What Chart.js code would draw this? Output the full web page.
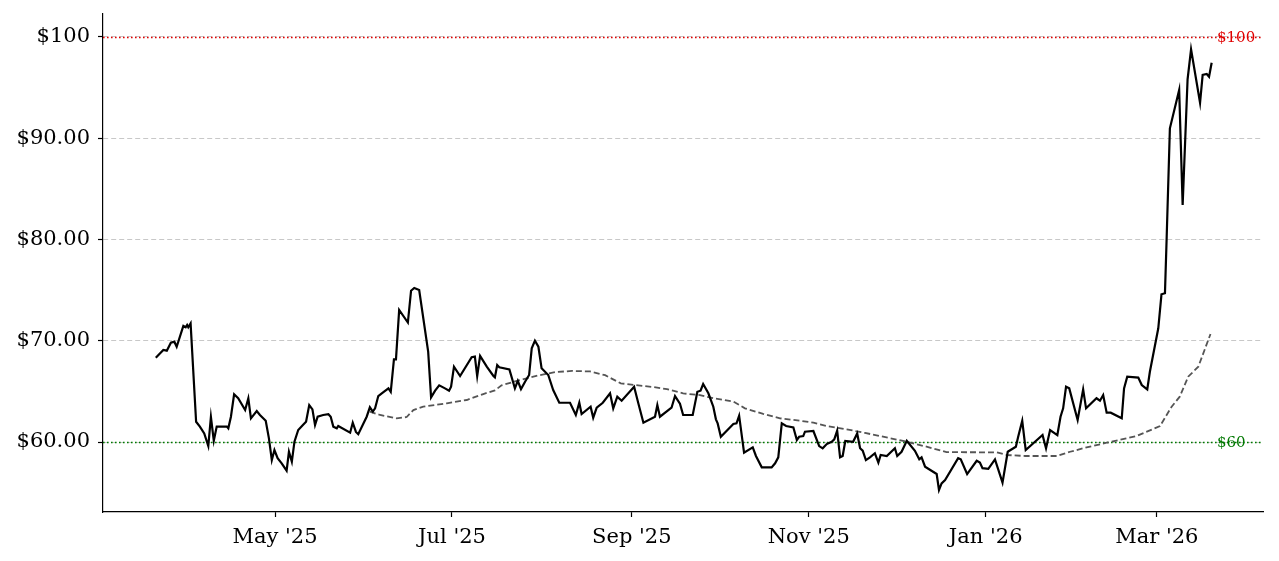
<!DOCTYPE html>
<html>
<head>
<meta charset="utf-8">
<script src="https://cdn.jsdelivr.net/npm/chart.js@4.4.1/dist/chart.umd.min.js"></script>
<style>
  html, body { margin: 0; padding: 0; background: #fff; }
  #wrap { width: 1279px; height: 561px; }
</style>
</head>
<body>
<div id="wrap"><canvas id="chart" width="1279" height="561"></canvas></div>
<script>
// x values are days counted from 1 May 2025
const priceDays = [
  -41.1, -38.5, -37.3, -35.9, -34.7, -33.9, -31.6, -30.8, -30.3, -29.9,
  -29.1, -27.2, -25.9, -24.4, -23.0, -22.1, -21.1, -20.1, -16.6, -16.1,
  -15.2, -14.1, -12.7, -10.3, -9.2, -8.3, -6.3, -5.2, -3.2, -2.1,
  -1.1, -0.2, 0.9, 2.3, 4.0, 4.8, 5.8, 6.7, 8.0, 9.7,
  10.7, 11.8, 12.9, 13.8, 14.7, 16.6, 18.4, 19.2, 20.1, 21.3,
  21.8, 25.9, 26.8, 27.9, 28.7, 31.6, 32.7, 33.7, 34.5, 35.6,
  36.8, 39.1, 39.9, 41.0, 41.7, 42.8, 45.8, 46.9, 48.0, 49.7,
  52.8, 53.8, 55.2, 56.6, 58.6, 60.0, 60.7, 61.7, 63.8, 67.8,
  68.9, 69.7, 70.7, 73.0, 75.3, 75.8, 76.6, 77.3, 80.8, 82.7,
  83.7, 84.8, 86.2, 87.6, 88.5, 89.6, 90.8, 91.9, 94.2, 95.9,
  98.0, 101.7, 103.7, 104.9, 105.7, 108.8, 109.7, 110.9, 113.0, 115.5,
  116.6, 118.0, 119.5, 123.8, 125.2, 127.0, 131.0, 131.8, 132.7, 136.7,
  137.9, 139.6, 140.7, 144.0, 145.6, 146.7, 147.6, 149.4, 151.1, 152.0,
  152.6, 153.7, 158.0, 159.1, 160.0, 161.7, 164.7, 165.8, 167.8, 171.2,
  172.4, 173.5, 174.7, 176.2, 178.7, 179.9, 180.7, 182.1, 182.7, 185.6,
  187.6, 188.8, 190.2, 191.9, 192.8, 193.8, 194.8, 195.7, 196.6, 199.3,
  200.7, 201.7, 202.6, 203.7, 205.1, 206.8, 208.0, 208.8, 210.9, 213.7,
  214.5, 216.0, 217.8, 220.6, 222.1, 222.9, 224.1, 228.1, 228.9, 229.8,
  231.0, 235.5, 236.4, 238.6, 241.9, 243.0, 243.9, 245.9, 248.2, 250.8,
  252.6, 255.4, 256.2, 257.6, 258.8, 264.6, 265.8, 267.2, 269.7, 270.8,
  271.7, 272.7, 273.8, 276.7, 278.6, 279.6, 283.2, 284.4, 285.5, 286.7,
  288.1, 291.9, 292.7, 293.8, 297.6, 298.8, 300.7, 301.6, 304.5, 305.6,
  306.8, 307.4, 308.5, 311.7, 312.9, 314.6, 315.8, 318.9, 319.8, 321.2,
  322.0, 322.9
];
const priceValues = [
  68.33, 69.09, 69.02, 69.81, 69.91, 69.41, 71.46, 71.33, 71.56, 71.33,
  71.72, 62.0, 61.52, 60.85, 59.6, 62.47, 60.13, 61.52, 61.52, 61.35,
  62.5, 64.71, 64.32, 63.16, 64.32, 62.34, 63.06, 62.67, 62.1, 60.36,
  58.22, 59.21, 58.4, 57.9, 57.17, 59.04, 58.06, 60.03, 61.19, 61.7,
  62.0, 63.65, 63.23, 61.68, 62.5, 62.67, 62.74, 62.5, 61.52, 61.35,
  61.58, 60.92, 61.91, 61.0, 60.77, 62.5, 63.43, 63.0, 63.33, 64.54,
  64.81, 65.3, 64.96, 68.17, 68.17, 73.04, 71.8, 74.94, 75.21, 75.01,
  68.92, 64.41, 65.07, 65.6, 65.3, 65.07, 65.46, 67.44, 66.52, 68.37,
  68.44, 66.52, 68.5, 67.44, 66.52, 66.39, 67.6, 67.38, 67.18, 65.3,
  66.05, 65.23, 65.96, 66.62, 69.25, 70.0, 69.41, 67.28, 66.62, 65.14,
  63.88, 63.88, 62.67, 63.88, 62.77, 63.49, 62.4, 63.39, 63.88, 64.81,
  63.33, 64.48, 64.08, 65.46, 63.88, 61.91, 62.5, 63.65, 62.5, 63.39,
  64.54, 63.79, 62.67, 62.67, 64.96, 65.07, 65.73, 64.81, 63.49, 62.24,
  61.84, 60.52, 61.78, 61.84, 62.6, 58.94, 59.47, 58.62, 57.5, 57.5,
  57.9, 58.49, 61.84, 61.58, 61.45, 60.2, 60.52, 60.59, 61.02, 61.09,
  59.6, 59.38, 59.8, 60.03, 60.26, 61.12, 58.49, 58.62, 60.1, 60.03,
  60.85, 59.38, 59.14, 58.22, 58.49, 58.89, 57.97, 58.73, 58.62, 59.38,
  58.62, 59.04, 60.13, 59.14, 58.29, 58.49, 57.56, 56.84, 55.26, 55.92,
  56.25, 58.4, 58.29, 56.84, 58.15, 57.97, 57.42, 57.35, 58.29, 55.99,
  59.04, 59.54, 60.52, 62.1, 59.21, 60.69, 59.38, 61.19, 60.69, 62.5,
  63.33, 65.46, 65.3, 62.17, 65.2, 63.33, 64.32, 64.08, 64.64, 62.9,
  62.9, 62.34, 65.3, 66.45, 66.36, 65.63, 65.2, 66.94, 71.23, 74.59,
  74.69, 80.28, 90.98, 94.77, 83.41, 95.82, 98.78, 93.51, 96.25, 96.35,
  96.08, 97.46
];
const maDays = [
  32.7, 36.2, 41.9, 45.4, 47.7, 51.1, 59.2, 66.1, 71.8, 75.8,
  78.1, 83.8, 90.7, 96.5, 102.4, 108.6, 113.8, 119.2, 124.1, 130.3,
  135.1, 140.7, 146.5, 151.1, 158.0, 162.0, 168.3, 174.1, 181.0, 185.6,
  190.2, 197.1, 203.4, 208.5, 217.7, 224.6, 231.5, 248.8, 252.2, 258.6,
  269.5, 274.1, 279.8, 286.7, 297.0, 305.1, 309.1, 311.9, 314.8, 318.3,
  322.5
];
const maValues = [
  63.0, 62.67, 62.34, 62.47, 63.16, 63.49, 63.82, 64.15, 64.74, 65.1,
  65.6, 66.07, 66.57, 66.9, 67.02, 66.97, 66.6, 65.8, 65.63, 65.43,
  65.23, 64.8, 64.64, 64.32, 63.99, 63.33, 62.77, 62.34, 62.1, 61.91,
  61.58, 61.25, 60.9, 60.59, 60.03, 59.54, 59.0, 58.98, 58.72, 58.62,
  58.62, 59.04, 59.47, 59.93, 60.59, 61.58, 63.49, 64.48, 66.45, 67.44,
  70.67
];
const xTickDays = [0, 61, 123, 184, 245, 304];
const xTickLabels = ["May '25", "Jul '25", "Sep '25", "Nov '25", "Jan '26", "Mar '26"];
const yTickValues = [60, 70, 80, 90, 100];
const yTickLabels = ['$60.00', '$70.00', '$80.00', '$90.00', '$100'];
const refLevels = [100, 60];
const refLabels = ['$100', '$60'];
const refColors = ['#e00000', '#007800'];

const serif = "'DejaVu Serif', serif";

// dotted reference lines with their labels on the right
const refLines = {
  id: 'refLines',
  beforeDatasetsDraw(chart) {
    const { ctx, chartArea, scales: { y } } = chart;
    ctx.save();
    refLevels.forEach((v, i) => {
      const py = Math.round(y.getPixelForValue(v)) + 0.5;
      ctx.strokeStyle = refColors[i];
      ctx.lineWidth = 1.6;
      ctx.setLineDash([1.6, 2.4]);
      ctx.beginPath();
      ctx.moveTo(chartArea.left, py);
      ctx.lineTo(chartArea.right, py);
      ctx.stroke();
    });
    ctx.restore();
  },
  afterDatasetsDraw(chart) {
    const { ctx, chartArea, scales: { y } } = chart;
    ctx.save();
    ctx.font = '15px ' + serif;
    ctx.textAlign = 'left';
    ctx.textBaseline = 'middle';
    refLevels.forEach((v, i) => {
      ctx.fillStyle = refColors[i];
      ctx.fillText(refLabels[i], chartArea.right - 46, y.getPixelForValue(v) + 1);
    });
    ctx.restore();
  }
};

const toPoints = (xs, ys) => xs.map((x, i) => ({ x: x, y: ys[i] }));

new Chart(document.getElementById('chart'), {
  type: 'line',
  data: {
    datasets: [
      {
        label: 'Price',
        data: toPoints(priceDays, priceValues),
        borderColor: '#000',
        borderWidth: 2.2,
        pointRadius: 0,
        tension: 0,
        order: 1
      },
      {
        label: 'Moving average',
        data: toPoints(maDays, maValues),
        borderColor: '#555',
        borderWidth: 1.8,
        borderDash: [6, 3],
        pointRadius: 0,
        tension: 0,
        order: 2
      }
    ]
  },
  options: {
    responsive: false,
    animation: false,
    devicePixelRatio: 1,
    layout: { padding: { top: 14, right: 16, left: 0, bottom: 0 } },
    plugins: {
      legend: { display: false },
      tooltip: { enabled: false }
    },
    scales: {
      x: {
        type: 'linear',
        min: -59.3,
        max: 340.6,
        afterBuildTicks: s => { s.ticks = xTickDays.map(v => ({ value: v })); },
        afterFit: s => { s.height = 49; s.paddingLeft = 0; s.paddingRight = 0; },
        ticks: {
          autoSkip: false,
          maxRotation: 0,
          color: '#000',
          padding: 8,
          font: { family: serif, size: 21 },
          callback: v => xTickLabels[xTickDays.indexOf(v)]
        },
        grid: { drawOnChartArea: false, tickLength: 5, tickColor: '#000', tickWidth: 1.2 },
        border: { color: '#000', width: 1.2 }
      },
      y: {
        min: 53.09,
        max: 102.27,
        afterBuildTicks: s => { s.ticks = yTickValues.map(v => ({ value: v })); },
        afterFit: s => { s.width = 103; s.paddingTop = 0; s.paddingBottom = 0; },
        ticks: {
          autoSkip: false,
          color: '#000',
          padding: 8,
          font: { family: serif, size: 21 },
          callback: v => yTickLabels[yTickValues.indexOf(v)]
        },
        grid: { color: '#c8c8c8', lineWidth: 1, tickLength: 5, tickColor: '#000', tickWidth: 1.2 },
        border: { color: '#000', width: 1.2, dash: [5, 3] }
      }
    }
  },
  plugins: [refLines]
});
</script>
</body>
</html>
